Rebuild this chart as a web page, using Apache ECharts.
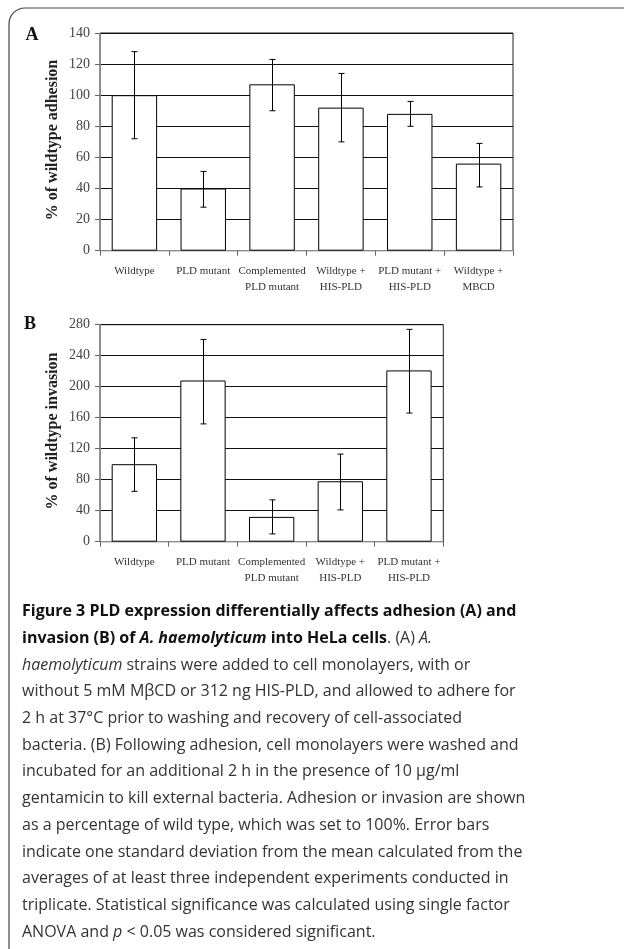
<!DOCTYPE html>
<html>
<head>
<meta charset="utf-8">
<script src="https://cdn.jsdelivr.net/npm/echarts@6/dist/echarts.min.js"></script>
<style>html,body{margin:0;padding:0;background:#fff}#c{width:624px;height:949px}</style>
</head>
<body>
<div id="c"></div>
<script>
// Panel A: adhesion
var catsA = ['Wildtype', 'PLD mutant', 'Complemented\nPLD mutant', 'Wildtype +\nHIS-PLD', 'PLD mutant +\nHIS-PLD', 'Wildtype +\nMBCD'];
var valsA = [100, 40, 107, 92, 88, 56];
var errLowA = [72, 28, 90, 70, 80, 41];
var errHighA = [128, 51, 123, 114, 96, 69];
// Panel B: invasion
var catsB = ['Wildtype', 'PLD mutant', 'Complemented\nPLD mutant', 'Wildtype +\nHIS-PLD', 'PLD mutant +\nHIS-PLD'];
var valsB = [100, 208, 32, 78, 221];
var errLowB = [65, 152, 10, 41, 166];
var errHighB = [134, 261, 54, 113, 274];
var yTicksA = [0, 20, 40, 60, 80, 100, 120, 140];
var yTicksB = [0, 40, 80, 120, 160, 200, 240, 280];

var serif = '"Liberation Serif", "Times New Roman", serif';
var sans = '"Open Sans", "Noto Sans", sans-serif';

function errRender(params, api) {
  var x = api.value(0);
  var lo = api.coord([x, api.value(1)]);
  var hi = api.coord([x, api.value(2)]);
  var cx = Math.round(lo[0]) + 0.5;
  var st = {stroke: '#000', lineWidth: 1};
  return {
    type: 'group',
    children: [
      {type: 'line', shape: {x1: cx, y1: hi[1], x2: cx, y2: lo[1]}, style: st},
      {type: 'line', shape: {x1: cx - 3, y1: hi[1], x2: cx + 3, y2: hi[1]}, style: st},
      {type: 'line', shape: {x1: cx - 3, y1: lo[1], x2: cx + 3, y2: lo[1]}, style: st}
    ]
  };
}

function xAxisCfg(cats, gi) {
  return {
    type: 'category', gridIndex: gi, data: cats,
    axisLine: {lineStyle: {color: '#888', width: 1}},
    axisTick: {show: true, length: 5, lineStyle: {color: '#666'}},
    axisLabel: {interval: 0, fontFamily: serif, fontSize: 11, color: '#333', lineHeight: 15.5, margin: 13}
  };
}
function yAxisCfg(ticks, gi) {
  return {
    type: 'value', gridIndex: gi, min: ticks[0], max: ticks[ticks.length - 1],
    interval: ticks[1] - ticks[0],
    axisLine: {show: true, lineStyle: {color: '#888', width: 1}},
    axisTick: {show: true, length: 5, lineStyle: {color: '#666'}},
    splitLine: {show: true, lineStyle: {color: '#111', width: 1}},
    axisLabel: {fontFamily: serif, fontSize: 14, color: '#444', margin: 10}
  };
}

var caption = [
  '{b|Figure 3 PLD expression differentially affects adhesion (A) and}',
  '{b|invasion (B) of }{bi|A. haemolyticum}{b| into HeLa cells}{n|. (A) }{i|A.}',
  '{i|haemolyticum}{n| strains were added to cell monolayers, with or}',
  '{n|without 5 mM MβCD or 312 ng HIS-PLD, and allowed to adhere for}',
  '{n|2 h at 37°C prior to washing and recovery of cell-associated}',
  '{n|bacteria. (B) Following adhesion, cell monolayers were washed and}',
  '{n|incubated for an additional 2 h in the presence of 10 μg/ml}',
  '{n|gentamicin to kill external bacteria. Adhesion or invasion are shown}',
  '{n|as a percentage of wild type, which was set to 100%. Error bars}',
  '{n|indicate one standard deviation from the mean calculated from the}',
  '{n|averages of at least three independent experiments conducted in}',
  '{n|triplicate. Statistical significance was calculated using single factor}',
  '{n|ANOVA and }{i|p}{n| < 0.05 was considered significant.}'
];
var capFs = 16;
var rich = {
  b: {fontFamily: sans, fontWeight: 'bold', fontSize: capFs, fill: '#111'},
  bi: {fontFamily: sans, fontWeight: 'bold', fontStyle: 'italic', fontSize: capFs, fill: '#111'},
  n: {fontFamily: sans, fontSize: capFs, fill: '#333'},
  i: {fontFamily: sans, fontStyle: 'italic', fontSize: capFs, fill: '#333'}
};
var graphics = [
  {type: 'rect', shape: {x: 9, y: 8, width: 700, height: 960, r: [16, 0, 0, 0]}, style: {stroke: '#444', lineWidth: 1.2, fill: 'none'}},
  {type: 'text', x: 32, y: 35, style: {text: 'A', font: 'bold 18px ' + serif, fill: '#111', align: 'center', verticalAlign: 'middle'}},
  {type: 'text', x: 30, y: 324, style: {text: 'B', font: 'bold 18px ' + serif, fill: '#111', align: 'center', verticalAlign: 'middle'}},
  {type: 'text', x: 53, y: 140, rotation: Math.PI / 2, style: {text: '% of wildtype adhesion', font: 'bold 16px ' + serif, fill: '#222', align: 'center', verticalAlign: 'middle'}},
  {type: 'text', x: 53, y: 431, rotation: Math.PI / 2, style: {text: '% of wildtype invasion', font: 'bold 16px ' + serif, fill: '#222', align: 'center', verticalAlign: 'middle'}}
];
caption.forEach(function (line, k) {
  graphics.push({type: 'text', x: 22, y: 611.7 + k * 26.7, style: {text: line, rich: rich, align: 'left', verticalAlign: 'middle'}});
});

var chart = echarts.init(document.getElementById('c'), null, {renderer: 'canvas'});
chart.setOption({
  animation: false,
  backgroundColor: '#fff',
  grid: [
    {left: 100, top: 33, width: 413, height: 217.7, show: true, borderColor: '#222', borderWidth: 1, backgroundColor: 'transparent'},
    {left: 100, top: 324.7, width: 343.3, height: 217, show: true, borderColor: '#222', borderWidth: 1, backgroundColor: 'transparent'}
  ],
  xAxis: [xAxisCfg(catsA, 0), xAxisCfg(catsB, 1)],
  yAxis: [yAxisCfg(yTicksA, 0), yAxisCfg(yTicksB, 1)],
  series: [
    {type: 'bar', xAxisIndex: 0, yAxisIndex: 0, data: valsA, barCategoryGap: '34%',
      itemStyle: {color: '#fff', borderColor: '#000', borderWidth: 1}},
    {type: 'custom', xAxisIndex: 0, yAxisIndex: 0, renderItem: errRender, z: 5,
      data: valsA.map(function (v, i) { return [i, errLowA[i], errHighA[i]]; })},
    {type: 'bar', xAxisIndex: 1, yAxisIndex: 1, data: valsB, barCategoryGap: '34%',
      itemStyle: {color: '#fff', borderColor: '#000', borderWidth: 1}},
    {type: 'custom', xAxisIndex: 1, yAxisIndex: 1, renderItem: errRender, z: 5,
      data: valsB.map(function (v, i) { return [i, errLowB[i], errHighB[i]]; })}
  ],
  graphic: graphics
});
</script>
</body>
</html>
